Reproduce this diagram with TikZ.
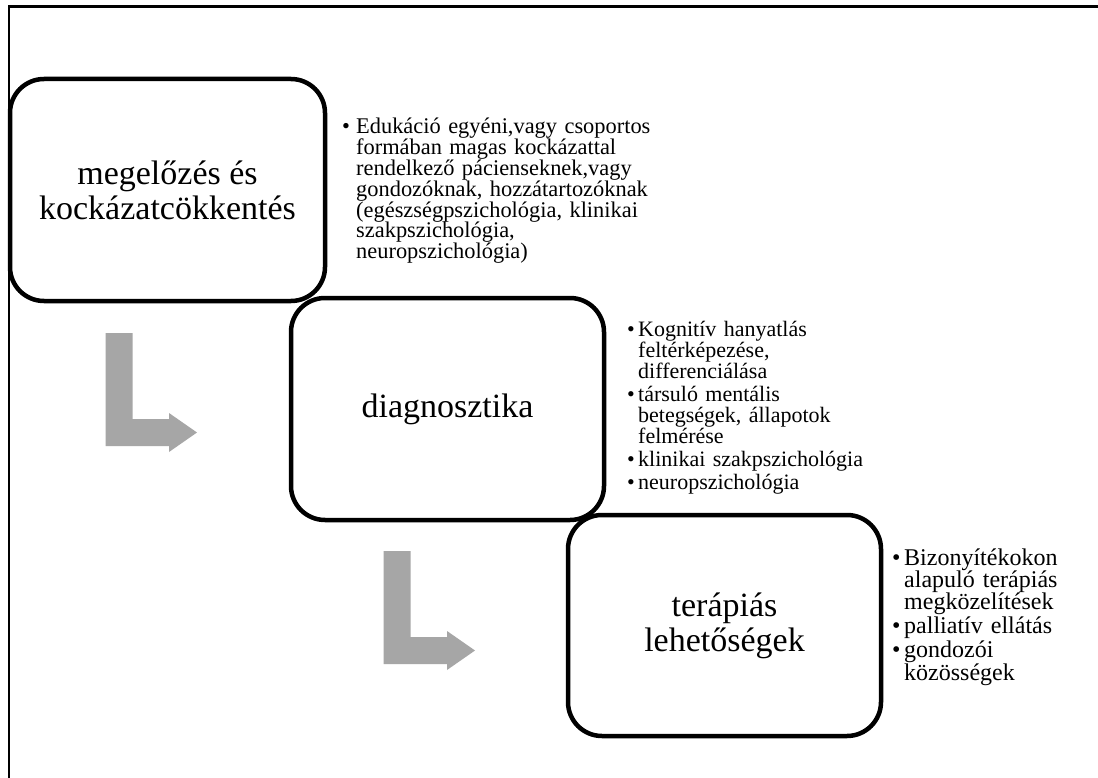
\documentclass[tikz,border=0pt]{standalone}
\usepackage{fontspec}
\setmainfont{Liberation Serif}
\definecolor{arrowgray}{HTML}{A6A6A6}
\newcommand{\bul}[2]{\noindent\hangindent=#1\hangafter=1\makebox[#1][l]{•}#2\par}
\tikzset{
  stage/.style={draw=black, line width=4.5pt, rounded corners=34pt, fill=white,
    align=center, inner sep=0pt, font=\fontsize{34}{35}\selectfont},
  blist/.style={anchor=base west, inner sep=0pt, align=left},
  barrow/.style={fill=arrowgray, draw=none},
  outerline/.style={line width=2.3pt, draw=black}
}
\begin{document}
\begin{tikzpicture}[x=1pt,y=-1pt]
\fill[white] (0,0) rectangle (1098,778);
\useasboundingbox (0,0) rectangle (1098,778);
% outer frame (partly outside the page)
\coordinate (fbl) at (9,780);
\coordinate (ftl) at (9,6.5);
\coordinate (ftr) at (1102,6.5);
\draw[outerline] (fbl) -- (ftl) -- (ftr);

% bent arrows
\coordinate (a1) at (105.5,333);
\coordinate (a2) at (383.5,551);
\foreach \a in {a1,a2}{
  \fill[barrow] (\a) -- ++(27,0) -- ++(0,86) -- ++(36.5,0) -- ++(0,-6)
     -- ++(28,19.5) -- ++(-28,19.5) -- ++(0,-6) -- ++(-63.5,0) -- cycle;
}

% stages
\node[stage, minimum width=315pt, minimum height=222pt] (s1) at (167.5,190)
  {megelőzés és\\kockázatcökkentés};
\node[stage, minimum width=313pt, minimum height=222pt] (s2) at (447.5,409)
  {diagnosztika};
\node[stage, minimum width=313pt, minimum height=221pt] (s3) at (724.5,625.5)
  {terápiás\\lehetőségek};

% bullet lists
\node[blist, text width=320pt, font=\fontsize{22.4}{20.8}\selectfont] (l1) at (342,134)
  {\bul{14pt}{Edukáció egyéni,vagy csoportos\newline formában magas kockázattal\newline rendelkező pácienseknek,vagy\newline gondozóknak, hozzátartozóknak\newline (egészségpszichológia, klinikai\newline szakpszichológia,\newline neuropszichológia)}};

\node[blist, text width=260pt, font=\fontsize{22}{20.8}\selectfont] (l2) at (627,336.7)
  {\bul{11pt}{Kognitív hanyatlás\newline feltérképezése,\newline differenciálása}\vspace{2.5pt}%
   \bul{11pt}{társuló mentális\newline betegségek, állapotok\newline felmérése}\vspace{2.5pt}%
   \bul{11pt}{klinikai szakpszichológia}\vspace{2.5pt}%
   \bul{11pt}{neuropszichológia}};

\node[blist, text width=200pt, font=\fontsize{24}{22.3}\selectfont] (l3) at (892,565)
  {\bul{12pt}{Bizonyítékokon\newline alapuló terápiás\newline megközelítések}\vspace{1.8pt}%
   \bul{12pt}{palliatív ellátás}\vspace{1.8pt}%
   \bul{12pt}{gondozói\newline közösségek}};
\end{tikzpicture}
\end{document}
